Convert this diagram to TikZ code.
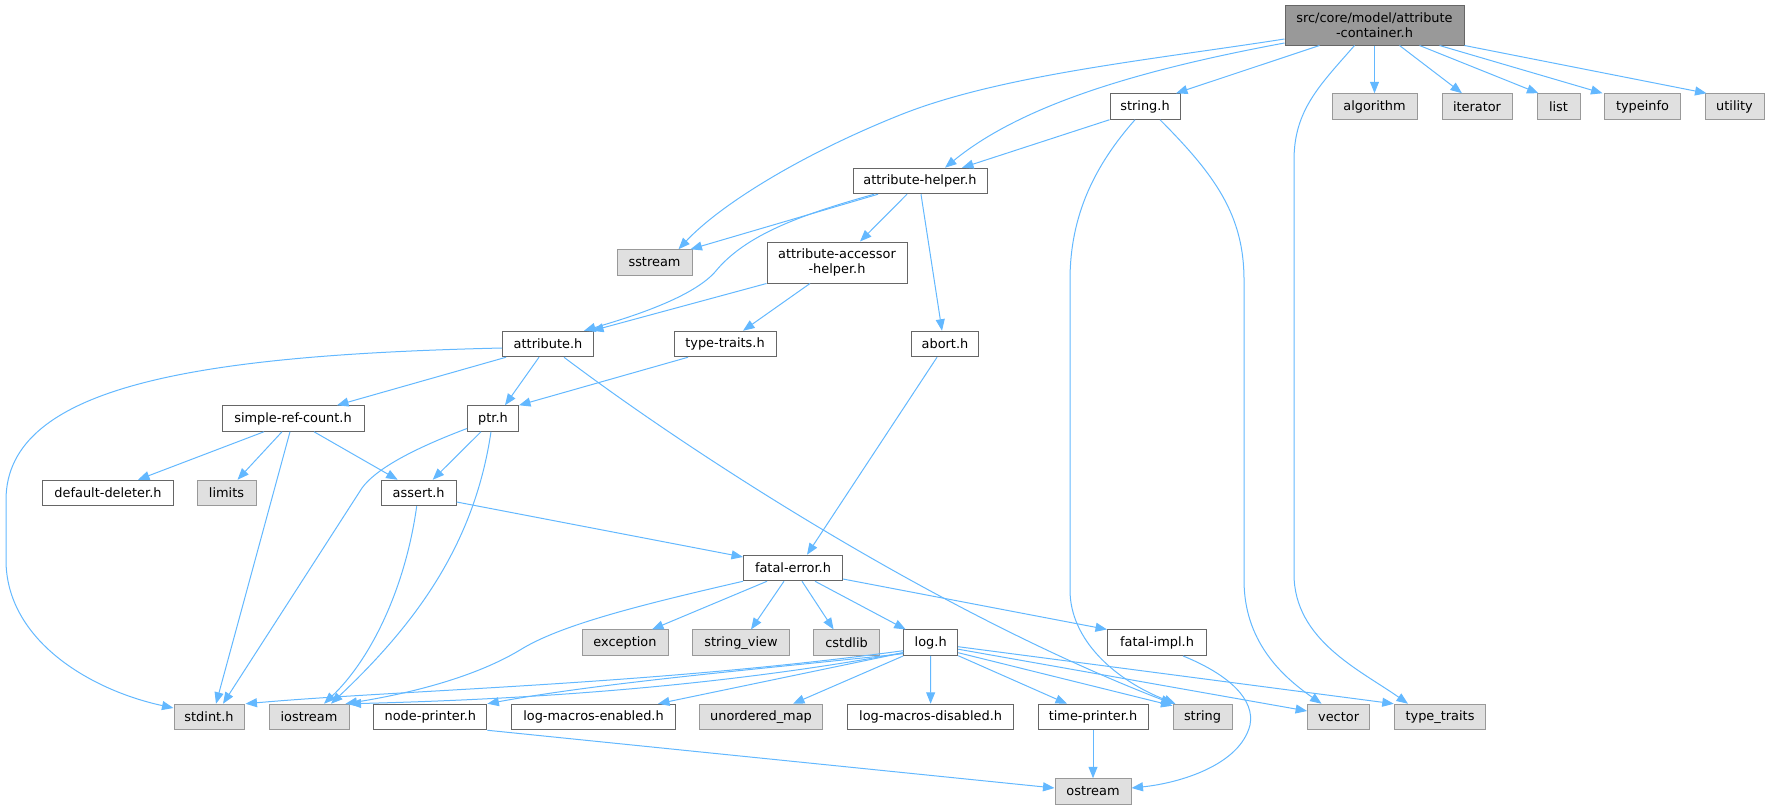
\documentclass[tikz,border=0pt]{standalone}
\usepackage{fontspec}
\setmainfont{DejaVu Sans}
\usepackage{tikz}
\usetikzlibrary{
        arrows.meta,
        positioning
    }
\definecolor{edgeblue}{HTML}{63B8FF}
\definecolor{docline}{HTML}{666666}
\definecolor{extline}{HTML}{999999}
\definecolor{extfill}{HTML}{E0E0E0}
\definecolor{rootfill}{HTML}{999999}
\tikzset{>={Triangle[length=11.5pt,width=9pt]}}
\tikzset{
        anybox/.style={rectangle,inner sep=0pt,minimum height=25.5pt,align=center,
                line width=1pt,font=\fontsize{12.9}{15}\selectfont},
        filebox/.style={anybox,draw=docline,fill=white},
        extbox/.style={anybox,draw=extline,fill=extfill},
        rootbox/.style={anybox,draw=docline,fill=rootfill},
        incl/.style={->,color=edgeblue,line width=1pt}
    }

\begin{document}
\begin{tikzpicture}[x=1pt,y=-1pt]
        \useasboundingbox (0,0) rectangle (1771,811);
        % row 0 and 1
        \node[rootbox,minimum width=179pt,minimum height=40pt] (root) at (1374.5,25) {src/core/model/attribute\\-container.h};
        \node[filebox,minimum width=70pt] (strh) at (1145,106.5) {string.h};
        \node[extbox,minimum width=85pt] (algorithm) at (1374.5,106.5) {algorithm};
        \node[extbox,minimum width=70pt] (iterator) at (1477,106.5) {iterator};
        \node[extbox,minimum width=43pt] (list) at (1558.5,106.5) {list};
        \node[extbox,minimum width=76pt] (typeinfo) at (1642.5,106.5) {typeinfo};
        \node[extbox,minimum width=59pt] (utility) at (1734.5,106.5) {utility};
        % rows 2 to 6
        \node[filebox,minimum width=134pt] (attrhelper) at (920,181) {attribute-helper.h};
        \node[extbox,minimum width=75pt] (sstream) at (654.5,262.5) {sstream};
        \node[filebox,minimum width=140pt,minimum height=41pt] (accessor) at (837,262.5) {attribute-accessor\\-helper.h};
        \node[filebox,minimum width=91pt] (attribute) at (548,344) {attribute.h};
        \node[filebox,minimum width=102pt] (typetraitsh) at (725,344) {type-traits.h};
        \node[filebox,minimum width=67pt] (abort) at (945,344) {abort.h};
        \node[filebox,minimum width=142pt] (simpleref) at (293,418.5) {simple-ref-count.h};
        \node[filebox,minimum width=51pt] (ptr) at (493,418.5) {ptr.h};
        \node[filebox,minimum width=131pt] (deleter) at (108,493) {default-deleter.h};
        \node[extbox,minimum width=59pt] (limits) at (226.5,493) {limits};
        \node[filebox,minimum width=75pt] (assert) at (418.7,493) {assert.h};
        % rows 7 to 10
        \node[filebox,minimum width=99pt] (fatalerror) at (793,568) {fatal-error.h};
        \node[extbox,minimum width=86pt] (exception) at (625,642.7) {exception};
        \node[extbox,minimum width=97pt] (stringview) at (741,642.7) {string\_view};
        \node[extbox,minimum width=65.5pt] (cstdlib) at (846.6,642.7) {cstdlib};
        \node[filebox,minimum width=54pt] (log) at (930.7,642.7) {log.h};
        \node[filebox,minimum width=99pt] (fatalimpl) at (1157,642.7) {fatal-impl.h};
        \node[extbox,minimum width=70pt] (stdint) at (209,717) {stdint.h};
        \node[extbox,minimum width=80pt] (iostream) at (309,717) {iostream};
        \node[filebox,minimum width=113pt] (nodeprinter) at (430.4,717) {node-printer.h};
        \node[filebox,minimum width=164pt] (enabled) at (593.5,717) {log-macros-enabled.h};
        \node[extbox,minimum width=123pt] (unorderedmap) at (761,717) {unordered\_map};
        \node[filebox,minimum width=166pt] (disabled) at (930.6,717) {log-macros-disabled.h};
        \node[filebox,minimum width=110pt] (timeprinter) at (1093,717) {time-printer.h};
        \node[extbox,minimum width=59pt] (string) at (1202.5,717) {string};
        \node[extbox,minimum width=62pt] (vector) at (1338.6,717) {vector};
        \node[extbox,minimum width=91.5pt] (typetraits) at (1440,717) {type\_traits};
        \node[extbox,minimum width=76pt] (ostream) at (1093,791.5) {ostream};
        % straight includes
        \path[incl]
                ([xshift=-55pt]root.south) edge ([xshift=31pt]strh.north)
                (root.south) edge (algorithm.north)
                ([xshift=25pt]root.south) edge ([xshift=-15pt]iterator.north)
                ([xshift=45pt]root.south) edge ([xshift=-20pt]list.north)
                ([xshift=65pt]root.south) edge ([xshift=-40pt]typeinfo.north)
                (root.south east) edge ([xshift=2pt]utility.north west)
                (strh.south west) edge ([xshift=42pt]attrhelper.north)
                ([xshift=-42pt]attrhelper.south) edge ([xshift=-2pt]sstream.north east)
                ([xshift=-13pt]attrhelper.south) edge ([xshift=23pt]accessor.north)
                ([xshift=1pt]attrhelper.south) edge ([xshift=-3pt]abort.north)
                (accessor.south west) edge ([xshift=-2pt]attribute.north east)
                ([xshift=-27pt]accessor.south) edge ([xshift=18pt]typetraitsh.north)
                ([xshift=-37pt]typetraitsh.south) edge (ptr.north east)
                ([xshift=-9pt]attribute.south) edge ([xshift=12pt]ptr.north)
                ([xshift=-42pt]attribute.south) edge ([xshift=44pt]simpleref.north)
                ([xshift=-29pt]simpleref.south) edge ([xshift=30pt]deleter.north)
                ([xshift=-11pt]simpleref.south) edge ([xshift=11pt]limits.north)
                ([xshift=-3pt]simpleref.south) edge ([xshift=7pt]stdint.north)
                ([xshift=21pt]simpleref.south) edge ([xshift=-21pt]assert.north)
                ([xshift=-12pt]ptr.south) edge ([xshift=14pt]assert.north)
                ([yshift=-9pt]assert.east) edge ([yshift=11pt]fatalerror.west)
                ([xshift=-8pt]abort.south) edge ([xshift=14pt]fatalerror.north)
                ([xshift=-26pt]fatalerror.south) edge ([xshift=27pt]exception.north)
                ([xshift=-9pt]fatalerror.south) edge ([xshift=10pt]stringview.north)
                ([xshift=9pt]fatalerror.south) edge ([xshift=-13pt]cstdlib.north)
                ([xshift=22pt]fatalerror.south) edge ([xshift=-25pt]log.north)
                ([yshift=-11pt]fatalerror.east) edge (fatalimpl.north west)
                (nodeprinter.south east) edge ([yshift=3.5pt]ostream.west)
                (timeprinter.south) edge (ostream.north)
                (log.south) edge (disabled.north)
                (log.south west) edge ([xshift=32pt]unorderedmap.north)
                ([yshift=-10pt]log.west) edge ([xshift=-18pt]enabled.north east)
                ([yshift=-13pt]log.east) edge ([xshift=-26pt]timeprinter.north)
                ([yshift=-10pt]log.east) edge ([yshift=-2pt]string.north west)
                ([yshift=-6.5pt]log.east) edge ([yshift=6pt]vector.west)
                ([yshift=-4pt]log.east) edge (typetraits.north west);
        % curved includes
        \draw[incl] ([yshift=-14pt]root.west) .. controls (1150,60) and (1000,75) .. (900,115)
                .. controls (800,155) and (720,205) .. ([xshift=24pt]sstream.north);
        \draw[incl] ([yshift=-18pt]root.west) .. controls (1150,68) and (1025,102) .. ([xshift=25pt]attrhelper.north);
        \draw[incl] ([xshift=-20pt]root.south) .. controls (1320,85) and (1294,110) .. (1294,160)
                -- (1294,574) .. controls (1294,640) and (1360,670) .. ([xshift=-32pt]typetraits.north);
        \draw[incl] ([xshift=-10pt]strh.south) .. controls (1095,165) and (1070,215) .. (1070,280)
                -- (1070,590) .. controls (1070,640) and (1115,680) .. ([xshift=3pt]string.north west);
        \draw[incl] ([xshift=15pt]strh.south) .. controls (1215,175) and (1244,215) .. (1244,280)
                -- (1244,580) .. controls (1244,640) and (1280,675) .. ([xshift=-17pt]vector.north);
        \draw[incl] ([xshift=-46pt]attrhelper.south) .. controls (800,215) and (745,235) .. (715,272)
                .. controls (690,300) and (620,320) .. ([xshift=-10pt]attribute.north east);
        \draw[incl] ([xshift=16pt]attribute.south) .. controls (680,445) and (930,610) .. (string.north west);
        \draw[incl] ([yshift=-4pt]attribute.west) .. controls (200,355) and (6,385) .. (6,500)
                -- (6,560) .. controls (6,640) and (90,690) .. ([yshift=9pt]stdint.west);
        \draw[incl] ([yshift=-10pt]ptr.west) .. controls (410,450) and (375,470) .. (362,488)
                -- ([xshift=14pt]stdint.north);
        \draw[incl] ([xshift=-2pt]ptr.south) .. controls (475,540) and (420,620) .. ([xshift=22pt]iostream.north);
        \draw[incl] ([xshift=-2pt]assert.south) .. controls (405,590) and (370,660) .. ([xshift=15pt]iostream.north);
        \draw[incl] (fatalerror.south west) .. controls (640,605) and (560,625) .. (520,650)
                .. controls (470,680) and (400,695) .. ([xshift=-4pt]iostream.north east);
        \draw[incl] ([xshift=26pt]fatalimpl.south) .. controls (1230,675) and (1255,700) .. (1250,725)
                .. controls (1240,765) and (1180,783) .. ([yshift=3.5pt]ostream.east);
        \draw[incl] ([yshift=-8pt]log.west) .. controls (650,685) and (400,690) .. ([xshift=1pt]stdint.north east);
        \draw[incl] ([yshift=-10pt]log.west) .. controls (700,690) and (500,700) .. (iostream.north east);
        \draw[incl] ([yshift=-11pt]log.west) .. controls (750,670) and (600,683) .. (nodeprinter.north east);
\end{tikzpicture}
\end{document}
